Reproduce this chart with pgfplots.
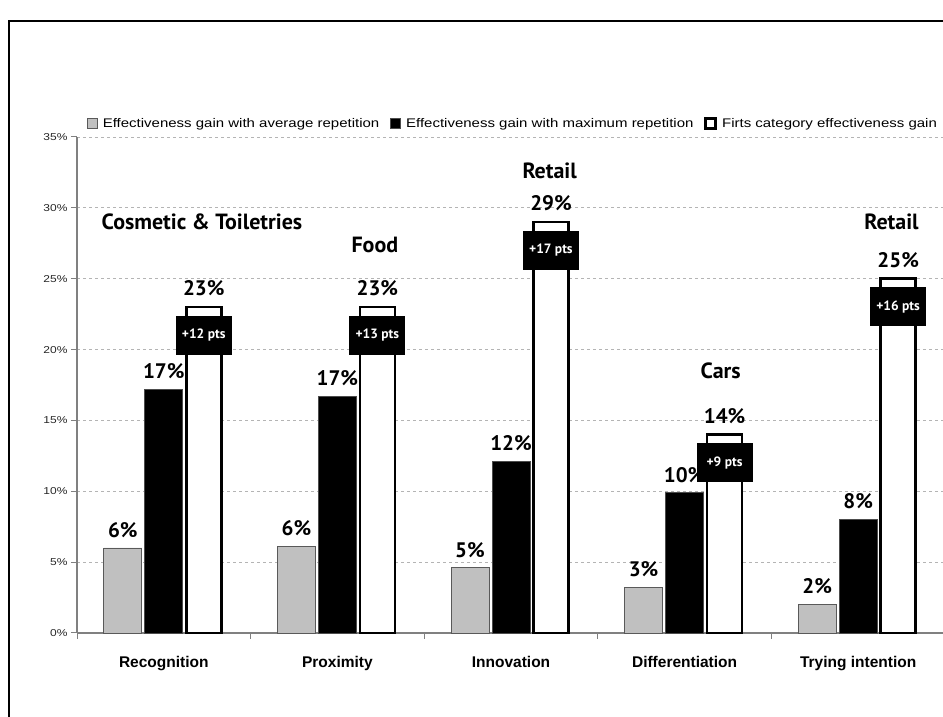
\documentclass[border=0pt]{standalone}
\usepackage{fontspec}
\setmainfont{Liberation Sans}
\newfontfamily\wide{Liberation Sans}[FakeStretch=1.2]
\newfontfamily\ann{PT Sans}
\usepackage{pgfplots}
\pgfplotsset{compat=1.18}
\definecolor{bargray}{HTML}{C0C0C0}
\definecolor{axgray}{HTML}{808080}
\definecolor{gridgray}{HTML}{B4B4B4}
\pgfplotsset{mysq/.style={legend image code/.code={\draw[##1] (0pt,-5pt) rectangle (10pt,5pt);}}}
\begin{document}
\begin{tikzpicture}[x=1pt,y=1pt]
\useasboundingbox (0,0) rectangle (943,717);
\draw[line width=2pt] (8.5,-5) -- (8.5,695.5) -- (950,695.5);
\begin{axis}[
  at={(77pt,84pt)}, anchor=south west,
  scale only axis, width=868pt, height=496pt,
  xmin=-0.5, xmax=4.5, ymin=0, ymax=35,
  clip=false,
  axis lines=left,
  axis line style={draw=axgray, line width=1.2pt, -},
  ybar, bar width=38pt,
  ytick={0,5,...,35},
  yticklabels={0\%,5\%,10\%,15\%,20\%,25\%,30\%,35\%},
  xtick={0,1,2,3,4},
  xticklabels={Recognition,Proximity,Innovation,Differentiation,Trying intention},
  x tick style={draw=none},
  y tick style={draw=axgray, line width=1pt},
  extra x ticks={-0.5,0.5,1.5,2.5,3.5,4.5},
  extra x tick labels={},
  extra x tick style={x tick style={draw=axgray, line width=1pt}},
  tick align=outside,
  major tick length=6pt,
  ymajorgrids,
  major grid style={draw=gridgray, dash pattern=on 3pt off 3pt, line width=0.8pt},
  yticklabel style={font=\wide\fontsize{10}{12}\selectfont, text=black!85},
  xticklabel style={font=\bfseries\fontsize{15.5}{18}\selectfont, yshift=-14pt},
  point meta=explicit symbolic,
  nodes near coords,
  every node near coord/.append style={font=\ann\bfseries\fontsize{21}{21}\selectfont, anchor=south, inner sep=0pt, yshift=10pt},
  legend columns=3,
  legend cell align=left,
  legend style={at={(0.0115,1.027)}, anchor=west, draw=none, fill=none, inner sep=0pt, outer sep=0pt,
    font=\wide\fontsize{12.5}{14}\selectfont,
    nodes={inner sep=0pt},
    /tikz/every odd column/.append style={column sep=5pt},
    /tikz/every even column/.append style={column sep=11pt}},
]
\addplot[bar shift=-41pt, fill=bargray, draw=black!65, line width=0.8pt, mysq] coordinates {
  (0,6.0) [6\%] (1,6.1) [6\%] (2,4.6) [5\%] (3,3.2) [3\%] (4,2.0) [2\%]};
\addlegendentry{Effectiveness gain with average repetition}
\addplot[bar shift=0pt, fill=black, draw=black!70, line width=0.8pt, mysq] coordinates {
  (0,17.2) [17\%] (1,16.7) [17\%] (2,12.1) [12\%] (3,9.9) [10\%] (4,8.0) [8\%]};
\addlegendentry{Effectiveness gain with maximum repetition}
\addplot[bar shift=40pt, bar width=35pt, fill=white, draw=black, line width=2.6pt, mysq] coordinates {
  (0,23.0) [23\%] (1,23.0) [23\%] (2,29.0) [29\%] (3,14.0) [14\%] (4,25.0) [25\%]};
\addlegendentry{Firts category effectiveness gain}
% +pts boxes
\tikzset{ptsbox/.style={fill=black, text=white, font=\ann\bfseries\fontsize{13.5}{15}\selectfont, minimum width=56pt, minimum height=39pt, anchor=north, inner sep=0pt}}
\node[ptsbox] at (axis cs:0.23,22.4) {+12 pts};
\node[ptsbox] at (axis cs:1.23,22.4) {+13 pts};
\node[ptsbox] at (axis cs:2.23,28.4) {+17 pts};
\node[ptsbox] at (axis cs:3.23,13.4) {+9 pts};
\node[ptsbox] at (axis cs:4.23,24.4) {+16 pts};
% category names
\tikzset{catname/.style={font=\ann\bfseries\fontsize{22}{24}\selectfont, inner sep=0pt}}
\node[catname] at (axis cs:0.22,29.0) {Cosmetic \& Toiletries};
\node[catname] at (axis cs:1.216,27.4) {Food};
\node[catname] at (axis cs:2.223,32.6) {Retail};
\node[catname] at (axis cs:3.208,18.5) {Cars};
\node[catname] at (axis cs:4.192,29.0) {Retail};
\end{axis}
\end{tikzpicture}
\end{document}
